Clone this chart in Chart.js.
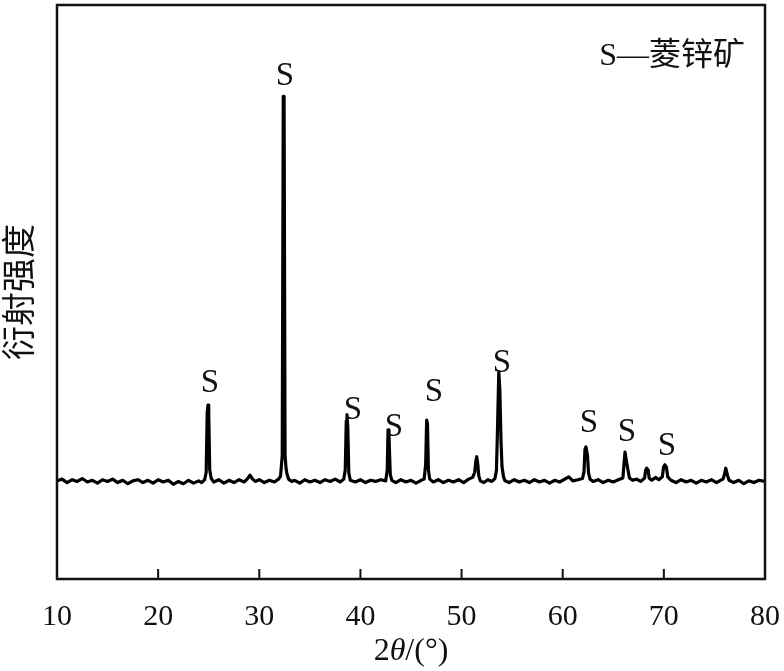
<!DOCTYPE html>
<html>
<head>
<meta charset="utf-8">
<script src="https://cdn.jsdelivr.net/npm/chart.js@4"></script>
<style>
  body { margin: 0; background: #fff; }
</style>
</head>
<body>
<canvas id="xrd" width="784" height="671"></canvas>
<script>
// XRD scan (2theta in degrees, intensity in arbitrary counts)
const twoTheta = [
  10.0, 10.5, 11.0, 11.5, 12.0, 12.5, 13.0, 13.5, 14.0, 14.5, 15.0, 15.5, 16.0, 16.5, 17.0, 17.5,
  18.0, 18.5, 19.0, 19.5, 20.0, 20.5, 21.0, 21.5, 22.0, 22.5, 23.0, 23.5, 24.0, 24.3, 24.6, 24.75,
  24.85, 24.93, 25.0, 25.1, 25.25, 25.5, 26.0, 26.5, 27.0, 27.5, 28.0, 28.5, 28.8, 29.08, 29.3, 29.6,
  30.0, 30.5, 31.0, 31.5, 31.9, 32.1, 32.27, 32.37, 32.45, 32.55, 32.65, 32.75, 32.9, 33.2, 33.5, 34.0,
  34.5, 35.0, 35.5, 36.0, 36.5, 37.0, 37.5, 38.0, 38.35, 38.5, 38.6, 38.67, 38.75, 38.85, 39.0, 39.5,
  40.0, 40.5, 41.0, 41.5, 42.0, 42.5, 42.65, 42.73, 42.82, 42.95, 43.1, 43.5, 44.0, 44.5, 45.0, 45.5,
  46.0, 46.3, 46.45, 46.55, 46.63, 46.72, 46.85, 47.2, 47.7, 48.2, 48.7, 49.2, 49.7, 50.2, 50.7, 51.1,
  51.3, 51.42, 51.5, 51.6, 51.7, 51.85, 52.2, 52.6, 53.0, 53.3, 53.45, 53.55, 53.68, 53.78, 53.9, 54.0,
  54.15, 54.3, 54.7, 55.2, 55.7, 56.2, 56.7, 57.2, 57.7, 58.2, 58.7, 59.2, 59.7, 60.2, 60.6, 61.0,
  61.5, 61.95, 62.1, 62.2, 62.3, 62.45, 62.55, 62.7, 63.0, 63.5, 64.0, 64.5, 65.0, 65.5, 65.95, 66.08,
  66.16, 66.3, 66.45, 66.6, 66.9, 67.3, 67.7, 68.1, 68.2, 68.3, 68.45, 68.55, 68.8, 69.2, 69.5, 69.85,
  69.97, 70.1, 70.25, 70.38, 70.7, 71.2, 71.7, 72.2, 72.7, 73.2, 73.7, 74.2, 74.7, 75.2, 75.6, 75.85,
  76.0, 76.12, 76.3, 76.45, 76.9, 77.4, 77.9, 78.4, 78.9, 79.4, 80.0
];
const intensity = [
  171, 174, 168, 173, 170, 175, 169, 172, 167, 173, 170, 174, 168, 172, 166, 171,
  173, 168, 172, 167, 173, 169, 172, 165, 170, 166, 172, 167, 171, 168, 173, 186,
  290, 303, 290, 190, 175, 169, 173, 167, 172, 168, 173, 169, 174, 181, 175, 170,
  173, 168, 172, 169, 174, 179, 215, 841, 841, 215, 192, 182, 174, 170, 172, 167,
  173, 169, 172, 168, 173, 170, 174, 169, 174, 190, 275, 286, 265, 185, 172, 169,
  173, 168, 172, 170, 173, 171, 190, 260, 250, 182, 172, 168, 173, 169, 172, 167,
  172, 174, 200, 277, 270, 190, 174, 169, 173, 168, 172, 169, 173, 168, 174, 177,
  186, 206, 213, 200, 180, 171, 168, 173, 170, 175, 190, 260, 361, 330, 240, 195,
  178, 171, 168, 173, 169, 172, 168, 173, 169, 172, 167, 172, 169, 174, 178, 171,
  173, 175, 186, 226, 230, 215, 185, 174, 170, 173, 168, 172, 169, 173, 176, 205,
  221, 205, 190, 176, 172, 174, 170, 176, 190, 193, 190, 176, 172, 177, 173, 178,
  195, 199, 195, 178, 172, 168, 173, 169, 172, 167, 172, 169, 173, 168, 172, 174,
  183, 193, 180, 172, 168, 172, 166, 171, 168, 172, 170
];

// "S" marks above the smithsonite reflections (where the letter sits, data units)
const labelAngle = [25.13, 32.54, 39.27, 43.32, 47.27, 54.0, 62.6, 66.36, 70.31];
const labelHeight = [341, 876, 293, 265, 326, 376, 272, 256, 232];
const labelText = 'S';
const legendText = 'S\u2014菱锌矿';

const xTicks = [10, 20, 30, 40, 50, 60, 70, 80];

const serif = "'Liberation Serif', 'Noto Sans CJK SC', serif";

const points = twoTheta.map((t, i) => ({ x: t, y: intensity[i] }));

// frame, inward ticks, peak letters, legend text, x title
const decor = {
  id: 'decor',
  afterDraw(chart) {
    const ctx = chart.ctx;
    const a = chart.chartArea;
    const xs = chart.scales.x;
    const ys = chart.scales.y;
    ctx.save();
    ctx.strokeStyle = '#111';
    ctx.lineWidth = 2.5;
    ctx.strokeRect(a.left, a.top, a.right - a.left, a.bottom - a.top);
    ctx.lineWidth = 2;
    xTicks.forEach(v => {
      const px = xs.getPixelForValue(v);
      ctx.beginPath();
      ctx.moveTo(px, a.bottom);
      ctx.lineTo(px, a.bottom - 10);
      ctx.stroke();
    });

    ctx.fillStyle = '#111';
    ctx.font = '33px ' + serif;
    ctx.textAlign = 'center';
    ctx.textBaseline = 'middle';
    labelAngle.forEach((t, i) => {
      ctx.fillText(labelText, xs.getPixelForValue(t), ys.getPixelForValue(labelHeight[i]));
    });

    ctx.font = '32px ' + serif;
    ctx.textAlign = 'right';
    ctx.fillText(legendText, a.right - 20, a.top + 52);

    // 2θ/(°) with italic theta
    const y = 652;
    ctx.textAlign = 'left';
    const parts = [['2', '32px '], ['\u03b8', 'italic 32px '], ['/(\u00b0)', '32px ']];
    let w = 0;
    parts.forEach(p => { ctx.font = p[1] + serif; w += ctx.measureText(p[0]).width; });
    let x = (a.left + a.right) / 2 - w / 2;
    parts.forEach(p => {
      ctx.font = p[1] + serif;
      ctx.fillText(p[0], x, y);
      x += ctx.measureText(p[0]).width;
    });
    ctx.restore();
  }
};

new Chart(document.getElementById('xrd'), {
  type: 'line',
  data: {
    datasets: [{
      data: points,
      borderColor: '#000',
      borderWidth: 3.2,
      borderJoinStyle: 'round',
      pointRadius: 0,
      tension: 0,
      fill: false
    }]
  },
  options: {
    responsive: false,
    animation: false,
    layout: { padding: { top: 5, right: 19, left: 0, bottom: 0 } },
    plugins: { legend: { display: false }, tooltip: { enabled: false } },
    scales: {
      x: {
        type: 'linear',
        min: 10,
        max: 80,
        afterFit(s) { s.height = 92; s.paddingLeft = 0; s.paddingRight = 0; },
        afterBuildTicks(s) { s.ticks = xTicks.map(v => ({ value: v })); },
        grid: { display: false },
        border: { display: false },
        ticks: { color: '#111', font: { family: serif, size: 30 }, padding: 12, maxRotation: 0 }
      },
      y: {
        min: 0,
        max: 1000,
        afterFit(s) { s.width = 57; },
        grid: { display: false },
        border: { display: false },
        ticks: { display: false },
        title: {
          display: true,
          text: '衍射强度',
          color: '#111',
          font: { family: serif, size: 34 },
          padding: { top: 2, bottom: 0 }
        }
      }
    }
  },
  plugins: [decor]
});
</script>
</body>
</html>
